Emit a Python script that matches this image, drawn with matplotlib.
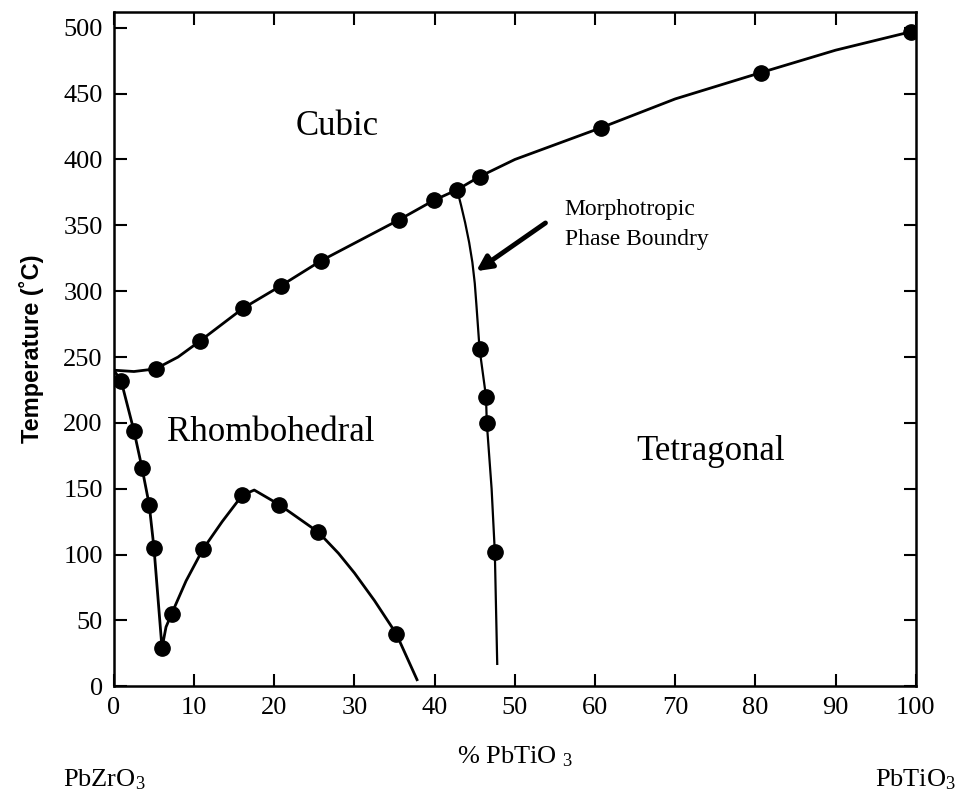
import matplotlib
matplotlib.use("Agg")
import matplotlib.pyplot as plt

plt.rcParams['font.family'] = ['Liberation Serif', 'DejaVu Serif']
plt.rcParams['mathtext.fontset'] = 'custom'
plt.rcParams['mathtext.rm'] = 'Liberation Serif'
plt.rcParams['mathtext.it'] = 'Liberation Serif'

# cubic / ferroelectric boundary (Curie line)
cubic_line_x = [0, 2.5, 5.2, 8, 10.7, 16.1, 20.8, 25.8, 35.5, 39.9, 42.8, 45.6, 50, 60.7, 70, 80.7, 90, 99.4, 100]
cubic_line_t = [240, 239, 241, 250, 262, 287, 304, 323, 354, 369, 377, 387, 400, 424, 446, 466, 483, 497, 498]
cubic_pts_x = [5.2, 10.7, 16.1, 20.8, 25.8, 35.5, 39.9, 42.8, 45.6, 60.7, 80.7, 99.4]
cubic_pts_t = [241, 262, 287, 304, 323, 354, 369, 377, 387, 424, 466, 497]

# antiferroelectric / rhombohedral boundary
rhomb_line_x = [0, 0.9, 2.5, 3.5, 4.4, 5.0, 6.0, 6.5, 7.2, 9, 11.1, 13.5, 16.0, 17.5, 20.6, 25.5, 28, 30, 32.5, 35.2, 37.8]
rhomb_line_t = [240, 232, 194, 166, 138, 105, 29, 45, 55, 80, 104, 125, 145, 149, 138, 117, 101, 86, 65, 40, 5]
rhomb_pts_x = [0.9, 2.5, 3.5, 4.4, 5.0, 6.0, 7.2, 11.1, 16.0, 20.6, 25.5, 35.2]
rhomb_pts_t = [232, 194, 166, 138, 105, 29, 55, 104, 145, 138, 117, 40]

# morphotropic phase boundary
mpb_line_x = [42.8, 43.3, 43.8, 44.3, 44.7, 45.0, 45.2, 45.4, 45.6, 46.4, 46.5, 47.1, 47.5, 47.8]
mpb_line_t = [377, 365, 352, 337, 322, 306, 290, 273, 256, 220, 200, 150, 102, 17]
mpb_pts_x = [45.6, 46.4, 46.5, 47.5]
mpb_pts_t = [256, 220, 200, 102]

fig = plt.figure(figsize=(9.57, 7.98), dpi=100)
ax = fig.add_axes([0.119, 0.140, 0.838, 0.845])

ax.plot(cubic_line_x, cubic_line_t, color='black', lw=2.0)
ax.plot(cubic_pts_x, cubic_pts_t, 'o', color='black', ms=11)
ax.plot(rhomb_line_x, rhomb_line_t, color='black', lw=2.0)
ax.plot(rhomb_pts_x, rhomb_pts_t, 'o', color='black', ms=11)
ax.plot(mpb_line_x, mpb_line_t, color='black', lw=1.6)
ax.plot(mpb_pts_x, mpb_pts_t, 'o', color='black', ms=11)

ax.annotate('', xy=(44.9, 314), xytext=(54.1, 353),
            arrowprops=dict(arrowstyle='-|>,head_length=0.9,head_width=0.45', color='black', lw=3.5))

ax.text(27.9, 425, 'Cubic', fontsize=25, ha='center', va='center')
ax.text(19.5, 193, 'Rhombohedral', fontsize=25, ha='center', va='center')
ax.text(74.4, 178, 'Tetragonal', fontsize=25, ha='center', va='center')
ax.text(56.2, 362, 'Morphotropic', fontsize=17, ha='left', va='center')
ax.text(56.2, 339, 'Phase Boundry', fontsize=17, ha='left', va='center')

ax.set_xlim(0, 100)
ax.set_ylim(0, 512)
ax.set_xticks(range(0, 101, 10))
ax.set_yticks(range(0, 501, 50))
ax.tick_params(direction='in', top=True, right=True, length=9, width=1.5, labelsize=19, pad=8)
for s in ax.spines.values():
    s.set_linewidth(1.8)

ax.set_ylabel('Temperature (˚C)', family=['Liberation Sans', 'DejaVu Sans'], fontsize=17,
              fontweight='bold', labelpad=14)
ax.set_xlabel('% PbTiO $_3$', fontsize=19, labelpad=18)

fig.text(0.066, 0.008, 'PbZrO$_3$', fontsize=19, ha='left', va='bottom')
fig.text(0.999, 0.008, 'PbTiO$_3$', fontsize=19, ha='right', va='bottom')

fig.savefig('out.png', dpi=100)
